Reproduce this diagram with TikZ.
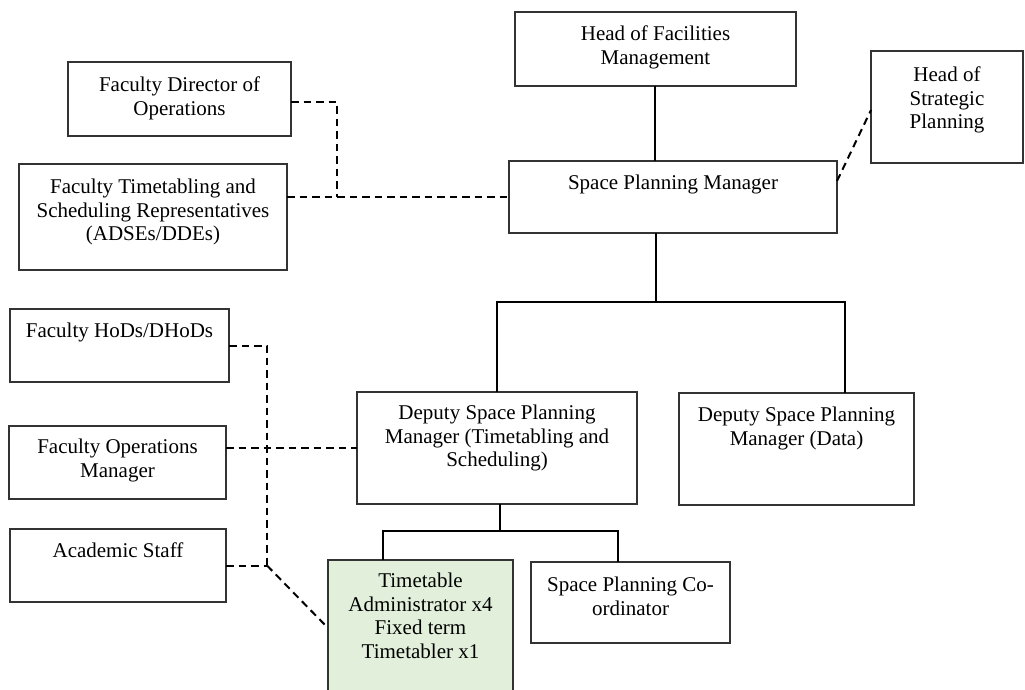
\documentclass[tikz,border=0pt]{standalone}
\usepackage{fontspec}
\setmainfont{Liberation Serif}
\definecolor{boxline}{HTML}{333333}
\definecolor{tafill}{HTML}{E2EFDA}
\begin{document}
\begin{tikzpicture}[x=1pt,y=-1pt,
  orgbox/.style={draw=boxline, line width=1.4pt, fill=white, anchor=north west, inner sep=0pt, outer sep=0pt},
  txt/.style={inner sep=0pt, anchor=north, align=center, font=\fontsize{21}{23.5}\selectfont},
  solidlink/.style={draw=black, line width=2pt},
  dashlink/.style={draw=black, line width=2pt, dash pattern=on 7.5pt off 5pt}]
\clip (0,0) rectangle (1025,689);
\fill[white] (0,0) rectangle (1025,689);
% ---------- boxes ----------
\node[orgbox, minimum width=281, minimum height=74] (hfm) at (515,12) {};
\node[orgbox, minimum width=152, minimum height=112] (hsp) at (871,51) {};
\node[orgbox, minimum width=328, minimum height=72] (spm) at (509,161) {};
\node[orgbox, minimum width=223, minimum height=74] (fdo) at (68,62) {};
\node[orgbox, minimum width=268, minimum height=106] (ftsr) at (19,164) {};
\node[orgbox, minimum width=219, minimum height=73] (hod) at (10,309) {};
\node[orgbox, minimum width=217, minimum height=73] (fom) at (9,426) {};
\node[orgbox, minimum width=216, minimum height=73] (acs) at (10,529) {};
\node[orgbox, minimum width=280, minimum height=112] (dt) at (357,392) {};
\node[orgbox, minimum width=235, minimum height=112] (dd) at (679,393) {};
\node[orgbox, fill=tafill, minimum width=185, minimum height=150] (ta) at (328,560) {};
\node[orgbox, minimum width=199, minimum height=81] (spc) at (531,562) {};
% ---------- texts ----------
\node[txt] (hfm-t) at ([yshift=-14pt]hfm.north) {Head of Facilities\\Management};
\node[txt] (hsp-t) at ([yshift=-16pt]hsp.north) {Head of\\Strategic\\Planning};
\node[txt] (spm-t) at ([yshift=-14pt]spm.north) {Space Planning Manager};
\node[txt] (fdo-t) at ([yshift=-15pt]fdo.north) {Faculty Director of\\Operations};
\node[txt] (ftsr-t) at ([yshift=-15pt]ftsr.north) {Faculty Timetabling and\\Scheduling Representatives\\(ADSEs/DDEs)};
\node[txt] (hod-t) at ([yshift=-14pt]hod.north) {Faculty HoDs/DHoDs};
\node[txt] (fom-t) at ([yshift=-13pt]fom.north) {Faculty Operations\\Manager};
\node[txt] (acs-t) at ([yshift=-14pt]acs.north) {Academic Staff};
\node[txt] (dt-t) at ([yshift=-13pt]dt.north) {Deputy Space Planning\\Manager (Timetabling and\\Scheduling)};
\node[txt] (dd-t) at ([yshift=-14pt]dd.north) {Deputy Space Planning\\Manager (Data)};
\node[txt] (ta-t) at ([yshift=-13pt]ta.north) {Timetable\\Administrator x4\\Fixed term\\Timetabler x1};
\node[txt] (spc-t) at ([yshift=-15pt]spc.north) {Space Planning Co-\\ordinator};
% ---------- solid reporting lines ----------
\coordinate (bus1) at (656,302);
\coordinate (bus2) at (500,531);
\draw[solidlink] ([xshift=-1pt]hfm.south) -- ([xshift=-1pt]hfm.south |- spm.north);
\draw[solidlink] (spm.south -| bus1) -- (bus1);
\draw[solidlink] (bus1) -| (dt.north);
\draw[solidlink] (bus1) -| ([xshift=48.5pt]dd.north);
\draw[solidlink] (dt.south -| bus2) -- (bus2);
\draw[solidlink] (bus2) -| ([xshift=-37.5pt]ta.north);
\draw[solidlink] (bus2) -| ([xshift=-12.5pt]spc.north);
% ---------- dashed liaison lines ----------
\coordinate (j1) at (337,197);
\coordinate (j2) at (267,565.5);
\draw[dashlink] ([yshift=-3pt]fdo.east) -| (j1);
\draw[dashlink] (ftsr.east |- spm.west) -- (spm.west);
\draw[dashlink] ([yshift=16pt]spm.east) -- ([yshift=-3pt]hsp.west);
\draw[dashlink] (hod.east) -| (j2);
\draw[dashlink] (acs.east) -- (j2);
\draw[dashlink] (j2) -- ([yshift=-68pt]ta.north west);
\draw[dashlink] (fom.east |- dt.west) -- (dt.west);
\end{tikzpicture}
\end{document}
